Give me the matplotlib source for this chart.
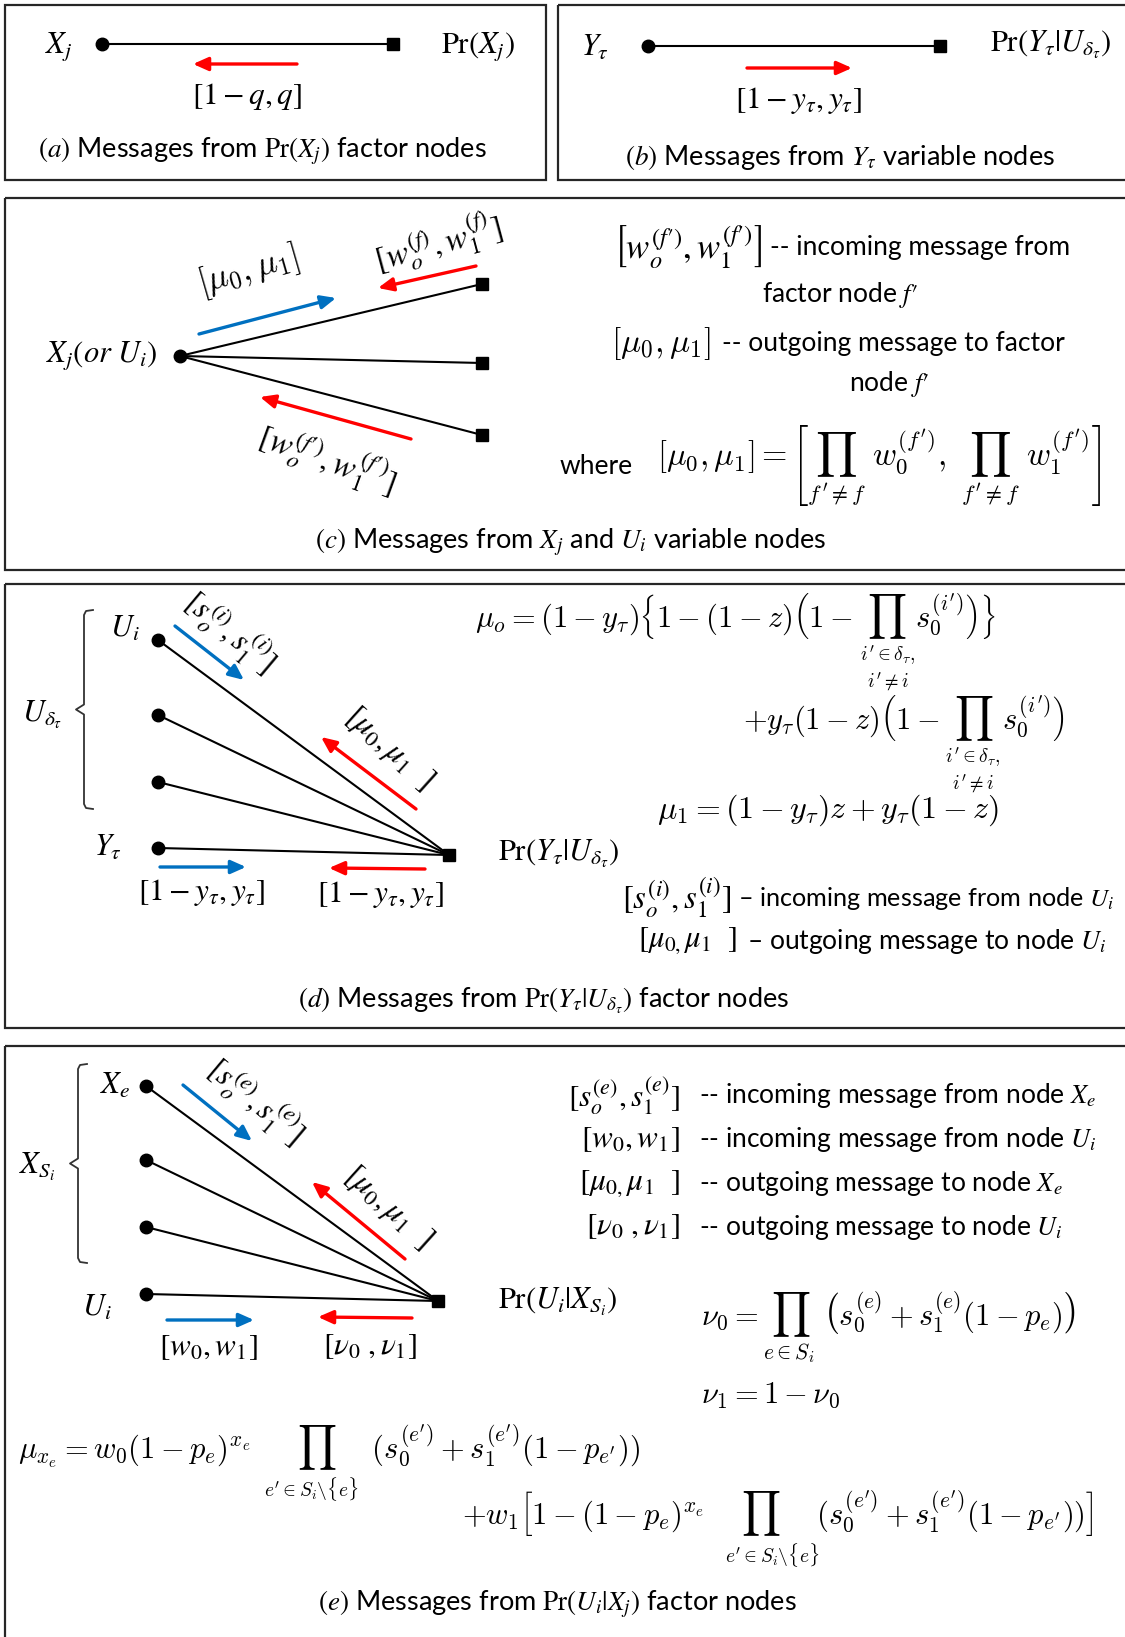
import matplotlib.pyplot as plt
from matplotlib.patches import Rectangle

plt.rcParams['font.family'] = ['Lato', 'DejaVu Sans']
plt.rcParams['mathtext.fontset'] = 'stix'

RED = '#ff0000'
BLUE = '#0070c0'

# panel frames: left, top, right, bottom (pixels, right/bottom may run off the page)
frames = [(5, 5, 546, 180), (558, 5, 1140, 180), (5, 198, 1140, 570),
          (5, 584, 1140, 1028), (5, 1046, 1140, 1660)]

captions = [r'$(a)$ Messages from $\mathrm{Pr}\left(X_j\right)$ factor nodes',
            r'$(b)$ Messages from $Y_\tau$ variable nodes',
            r'$(c)$ Messages from $X_j$ and $U_i$ variable nodes',
            r'$(d)$ Messages from $\mathrm{Pr}\left(Y_\tau|U_{\delta_\tau}\right)$ factor nodes',
            r'$(e)$ Messages from $\mathrm{Pr}\left(U_i|X_j\right)$ factor nodes']
caption_xy = [(262, 151), (840, 158), (571, 542), (544, 1001), (557, 1604)]

# node positions per panel
a_var, a_fac = (102, 44), (393, 44)
b_var, b_fac = (648, 46), (940, 46)
c_var = (180, 356)
c_facs = [(482, 284), (482, 363), (482, 435)]
d_vars = [(158, 640), (158, 715), (158, 782), (158, 848)]
d_fac = (449, 855)
e_vars = [(146, 1086), (146, 1160), (146, 1227), (146, 1294)]
e_fac = (438, 1301)

fig = plt.figure(figsize=(11.25, 16.37), dpi=100)
ax = fig.add_axes([0, 0, 1, 1])
ax.set_xlim(0, 1125)
ax.set_ylim(1637, 0)
ax.axis('off')


def edge(p, q):
    ax.plot([p[0], q[0]], [p[1], q[1]], color='black', lw=1.5, zorder=2)


def var_node(p):
    ax.plot(p[0], p[1], 'o', ms=9, color='black', zorder=3)


def fac_node(p):
    ax.plot(p[0], p[1], 's', ms=9, color='black', zorder=3)


def arrow(x0, y0, x1, y1, color):
    ax.annotate('', xy=(x1, y1), xytext=(x0, y0),
                arrowprops=dict(arrowstyle='-|>,head_length=0.45,head_width=0.2',
                                color=color, lw=2.4, shrinkA=0, shrinkB=0,
                                mutation_scale=20))


def label(x, y, s, size=22, ha='center', va='center', rot=0, mfont='stix'):
    ax.text(x, y, s, fontsize=size, ha=ha, va=va, rotation=rot,
            rotation_mode='anchor', math_fontfamily=mfont)


def brace(x, y0, y1):
    ym = (y0 + y1) / 2
    xs = [x + 9, x + 2, x, x, x - 8, x, x, x + 2, x + 9]
    ys = [y0, y0 + 1, y0 + 5, ym - 5, ym, ym + 5, y1 - 5, y1 - 1, y1]
    ax.plot(xs, ys, color='#333333', lw=1.3)


for (l, t, r, b) in frames:
    ax.add_patch(Rectangle((l, t), r - l, b - t, fill=False, ec='#262626', lw=1.6))

for s, (x, y) in zip(captions, caption_xy):
    label(x, y, s, size=19.5)

# (a)
edge(a_var, a_fac)
var_node(a_var)
fac_node(a_fac)
label(59, 47, r'$X_j$')
label(478, 47, r'$\mathrm{Pr}\left(X_j\right)$')
arrow(297, 64, 193, 64, RED)
label(247, 96, r'$[1-q, q]$', size=22.5)

# (b)
edge(b_var, b_fac)
var_node(b_var)
fac_node(b_fac)
label(595, 47, r'$Y_\tau$')
label(1051, 45, r'$\mathrm{Pr}\left(Y_\tau|U_{\delta_\tau}\right)$')
arrow(747, 68, 852, 68, RED)
label(798, 100, r'$[1-y_\tau, y_\tau]$', size=22.5)

# (c)
for f in c_facs:
    edge(c_var, f)
    fac_node(f)
var_node(c_var)
label(102, 356, r'$X_j(or\ U_i)$')
arrow(199, 334, 336, 298, BLUE)
label(248, 271, r'$[\mu_0, \mu_1]$', size=25, rot=16, mfont='cm')
arrow(476, 266, 378, 288, RED)
label(438, 243, r"$[w_o^{(f)}, w_1^{(f)}]$", size=24, rot=15)
arrow(411, 439, 260, 397, RED)
label(327, 459, r"$[w_o^{(f\prime)}, w_1^{(f\prime)}]$", size=24, rot=-20)

label(613, 247, r"$\left[w_o^{(f\prime)}, w_1^{(f\prime)}\right]$", ha='left', size=25)
label(770, 247, '-- incoming message from', ha='left', size=19)
label(840, 295, r"factor node $f\prime$", size=19)
label(611, 344, r'$[\mu_0, \mu_1]$', ha='left', size=24, mfont='cm')
label(722, 344, '-- outgoing message to factor', ha='left', size=19)
label(889, 384, r"node $f\prime$", size=19)
label(560, 466, 'where', ha='left', size=19)
label(657, 465, r"$[\mu_0, \mu_1] = \left[\prod_{f'\neq f}\ w_0^{(f')},\ \prod_{f'\neq f}\ w_1^{(f')}\right]$",
      ha='left', size=23.5, mfont='cm')

# (d)
for v in d_vars:
    edge(v, d_fac)
    var_node(v)
fac_node(d_fac)
brace(84, 610, 809)
label(42, 715, r'$U_{\delta_\tau}$')
label(125, 628, r'$U_i$')
label(108, 847, r'$Y_\tau$')
arrow(175, 626, 244, 680, BLUE)
label(230, 631, r'$[s_o^{(i)}, s_1^{(i)}]$', size=23, rot=-40)
arrow(416, 809, 321, 737, RED)
label(389, 749, r'$[\mu_0, \mu_1\ \ ]$', size=23, rot=-42)
arrow(160, 867, 246, 867, BLUE)
arrow(425, 869, 329, 868, RED)
label(201, 893, r'$[1-y_\tau, y_\tau]$', size=22.5)
label(380, 894, r'$[1-y_\tau, y_\tau]$', size=22.5)
label(498, 854, r'$\mathrm{Pr}\left(Y_\tau|U_{\delta_\tau}\right)$', ha='left')

label(475, 627, r"$\mu_o = (1-y_\tau)\left\{1-(1-z)\left(1-\ \prod\ s_0^{(i')}\right)\right\}$",
      ha='left', va='baseline', size=22, mfont='cm')
label(888, 668, r"$i'\in\delta_\tau,$" + '\n' + r"$i'\neq i$", size=14, mfont='cm')
label(743, 729, r"$+y_\tau(1-z)\left(1-\ \prod\ s_0^{(i')}\right)$",
      ha='left', va='baseline', size=22, mfont='cm')
label(973, 770, r"$i'\in\delta_\tau,$" + '\n' + r"$i'\neq i$", size=14, mfont='cm')
label(657, 818, r'$\mu_1 = (1-y_\tau)z + y_\tau(1-z)$', ha='left', va='baseline',
      size=23, mfont='cm')
label(622, 898, r'$[s_o^{(i)}, s_1^{(i)}]$', ha='left', size=23.5)
label(738, 898, r'– incoming message from node $U_i$', ha='left', size=18.2)
label(638, 941, r'$[\mu_{0,}\mu_1\ \ ]$', ha='left')
label(747, 941, r'– outgoing message to node $U_i$', ha='left', size=19)

# (e)
for v in e_vars:
    edge(v, e_fac)
    var_node(v)
fac_node(e_fac)
brace(78, 1064, 1263)
label(37, 1167, r'$X_{S_i}$')
label(115, 1085, r'$X_e$')
label(97, 1307, r'$U_i$')
arrow(183, 1085, 252, 1141, BLUE)
label(256, 1101, r'$[s_o^{(e)}, s_1^{(e)}]$', size=23, rot=-40)
arrow(405, 1259, 312, 1182, RED)
label(388, 1208, r'$[\mu_0, \mu_1\ \ ]$', size=23, rot=-42)
arrow(167, 1320, 254, 1320, BLUE)
arrow(412, 1318, 318, 1317, RED)
label(208, 1348, r'$[w_0, w_1]$', size=22.5)
label(370, 1347, r'$[\nu_0\ , \nu_1]$', size=22.5)
label(498, 1302, r'$\mathrm{Pr}\left(U_i|X_{S_i}\right)$', ha='left')

e_terms = [r'$[s_o^{(e)}, s_1^{(e)}]$', r'$[w_0, w_1]$', r'$[\mu_{0,}\mu_1\ \ ]$', r'$[\nu_0\ , \nu_1]$']
e_desc = [r'-- incoming message from node $X_e$', r'-- incoming message from node $U_i$',
          r'-- outgoing message to node $X_e$', r'-- outgoing message to node $U_i$']
e_rows = [1096, 1140, 1184, 1227]
for term, desc, y in zip(e_terms, e_desc, e_rows):
    label(680, y, term, ha='right', size=22.5)
    label(699, y, desc, ha='left', size=19)

label(701, 1326, r'$\nu_0 = \prod_{e\in S_i}\ \left(s_0^{(e)} + s_1^{(e)}(1-p_e)\right)$',
      ha='left', va='baseline', size=22, mfont='cm')
label(701, 1403, r'$\nu_1 = 1-\nu_0$', ha='left', va='baseline', size=22, mfont='cm')
label(18, 1458, r"$\mu_{x_e} = w_0(1-p_e)^{x_e}\quad\ \ \prod\quad\ (s_0^{(e')} + s_1^{(e')}(1-p_{e'}))$",
      ha='left', va='baseline', size=22, mfont='cm')
label(311, 1489, r"$e'\in S_i\backslash\{e\}$", size=14, mfont='cm')
label(462, 1524, r"$+w_1\left[1-(1-p_e)^{x_e}\quad\ \prod\quad\ (s_0^{(e')} + s_1^{(e')}(1-p_{e'}))\right]$",
      ha='left', va='baseline', size=22, mfont='cm')
label(772, 1555, r"$e'\in S_i\backslash\{e\}$", size=14, mfont='cm')

fig.savefig('out.png', dpi=100)
